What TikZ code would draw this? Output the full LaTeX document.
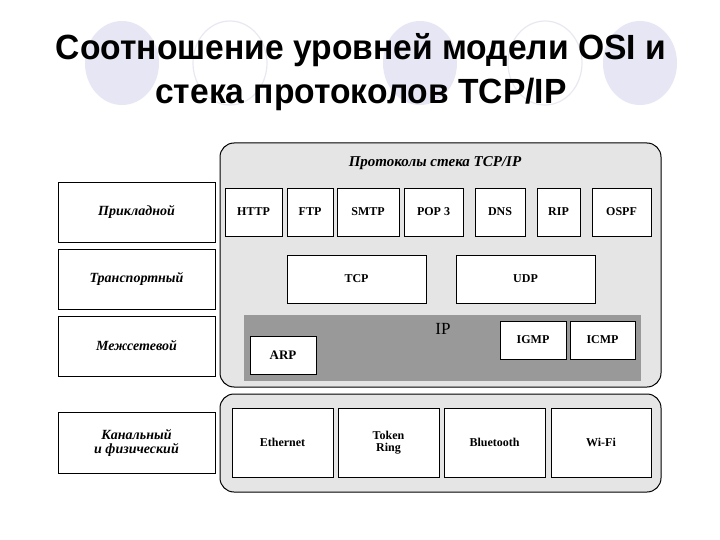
\documentclass[tikz,border=0pt]{standalone}
\usepackage{fontspec}
\setmainfont{Liberation Serif}
\newfontfamily\titlefont{Liberation Sans}
\begin{document}
\begin{tikzpicture}[x=1pt,y=-1pt,
  panel/.style={draw=black,line width=1pt,rounded corners=14pt,fill=black!10},
  pbox/.style={draw=black,line width=0.8pt,fill=white,inner sep=0pt,font=\bfseries\fontsize{12}{12}\selectfont},
  lbox/.style={draw=black,line width=0.8pt,fill=white,inner sep=0pt,font=\bfseries\itshape\fontsize{14}{14}\selectfont,align=center},
  decoo/.style={line width=1.2pt}]
\useasboundingbox (0,0) rectangle (720,540);
\fill[white] (0,0) rectangle (720,540);
% decorative ellipses
\fill[fill={rgb,255:red,230;green,230;blue,244}] (122,63) ellipse (37 and 42);
\draw[decoo,draw={rgb,255:red,232;green,232;blue,242}] (230,63) ellipse (37 and 42);
\fill[fill={rgb,255:red,230;green,230;blue,244}] (420,63) ellipse (37 and 42);
\draw[decoo,draw={rgb,255:red,232;green,232;blue,242}] (545,63) ellipse (37 and 42);
\fill[fill={rgb,255:red,230;green,230;blue,244}] (640,63) ellipse (37 and 42);
% title
\node[font=\titlefont\bfseries\fontsize{35}{44}\selectfont,align=center,inner sep=0pt] (title) at (361,72)
  {\scalebox{0.96}[1]{Соотношение уровней модели OSI и}\\\scalebox{0.96}[1]{стека протоколов TCP/IP}};
% panels
\draw[panel] (220,143) rectangle (661,387);
\draw[panel] (220,394) rectangle (661,492);
\node[font=\bfseries\itshape\fontsize{15}{15}\selectfont] (ptitle) at (435,163) {Протоколы стека TCP/IP};
% left boxes
\node[lbox,minimum width=157,minimum height=60] (app) at (136.5,212) {Прикладной};
\node[lbox,minimum width=157,minimum height=60] (tr) at (136.5,279) {Транспортный};
\node[lbox,minimum width=157,minimum height=60] (net) at (136.5,346) {Межсетевой};
\node[lbox,minimum width=157,minimum height=61] (link) at (136.5,442.5) {Канальный\\и физический};
% application protocols
\node[pbox,minimum width=57,minimum height=48] (http) at (253.5,212) {HTTP};
\node[pbox,minimum width=46,minimum height=48] (ftp) at (310,212) {FTP};
\node[pbox,minimum width=62,minimum height=48] (smtp) at (368,212) {SMTP};
\node[pbox,minimum width=59,minimum height=48] (pop) at (433.5,212) {POP 3};
\node[pbox,minimum width=50,minimum height=48] (dns) at (500,212) {DNS};
\node[pbox,minimum width=43,minimum height=48] (rip) at (558.5,212) {RIP};
\node[pbox,minimum width=59,minimum height=48] (ospf) at (621.5,212) {OSPF};
% transport
\node[pbox,minimum width=139,minimum height=48] (tcp) at (356.5,279) {TCP};
\node[pbox,minimum width=139,minimum height=48] (udp) at (525.5,279) {UDP};
% IP band
\fill[black!40] (244,315) rectangle (641,381);
\node[font=\fontsize{17}{17}\selectfont] (ip) at (443,329) {IP};
\node[pbox,minimum width=66,minimum height=38,font=\bfseries\fontsize{13}{13}\selectfont] (arp) at (283,355) {ARP};
\node[pbox,minimum width=66,minimum height=38] (igmp) at (533,340) {IGMP};
\node[pbox,minimum width=65,minimum height=38] (icmp) at (602.5,340) {ICMP};
% link layer
\node[pbox,minimum width=101,minimum height=69] (eth) at (282.5,442.5) {Ethernet};
\node[pbox,minimum width=101,minimum height=69,align=center] (tok) at (388.5,442.5) {Token\\Ring};
\node[pbox,minimum width=101,minimum height=69] (bt) at (494.5,442.5) {Bluetooth};
\node[pbox,minimum width=100,minimum height=69] (wifi) at (601,442.5) {Wi-Fi};
\end{tikzpicture}
\end{document}
